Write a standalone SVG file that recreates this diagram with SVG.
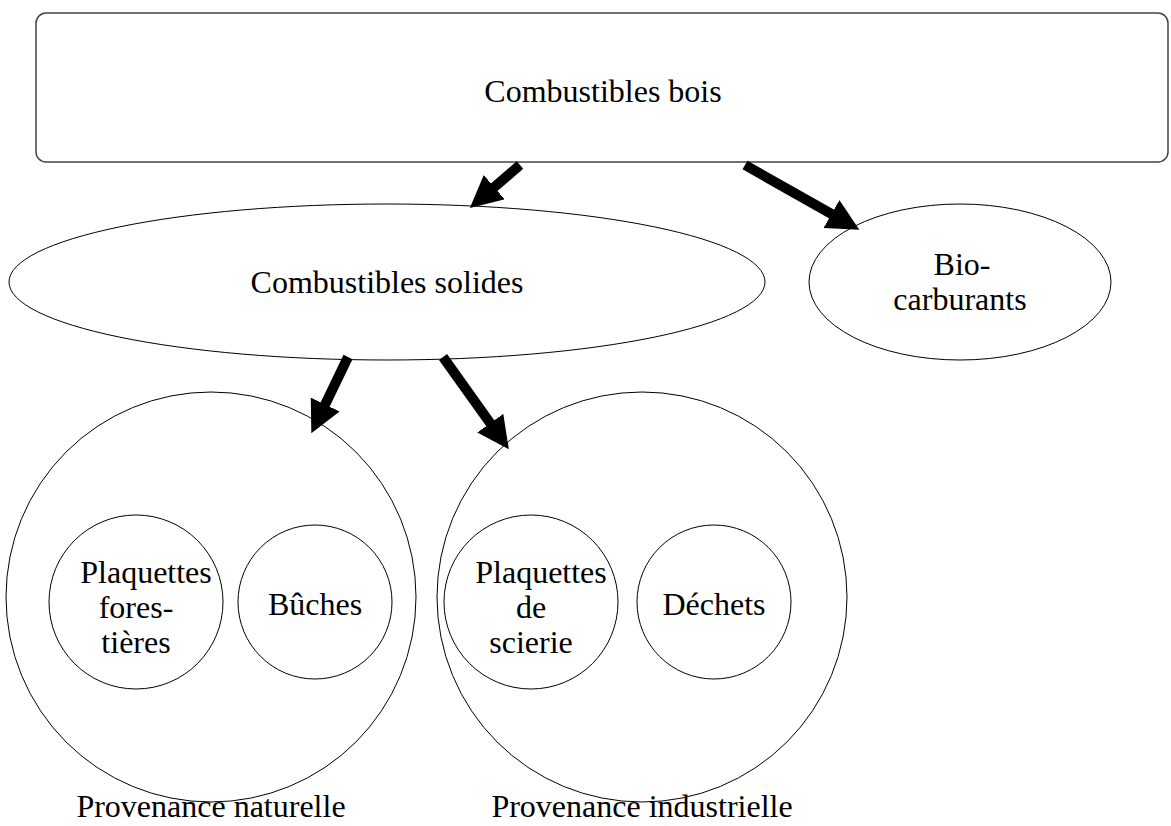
<svg xmlns="http://www.w3.org/2000/svg" width="1171" height="826" viewBox="0 0 1171 826">
<style>
text{font-family:"Liberation Serif","Times New Roman",serif;font-size:32px;fill:#000;text-anchor:middle}
.n{fill:#fff;stroke:#000;stroke-width:1}
.box{fill:#fff;stroke:#444;stroke-width:1.5}
.arr{stroke:#000;stroke-width:10;fill:none;marker-end:url(#ah)}
</style>
<defs>
<marker id="ah" markerUnits="userSpaceOnUse" markerWidth="32" markerHeight="32" refX="8" refY="15" orient="auto" viewBox="0 0 30 30">
<path d="M0,0 L30,15 L0,30 z" fill="#000"/>
</marker>
</defs>
<rect width="1171" height="826" fill="#fff"/>
<g id="bois"><rect class="box" x="36" y="13" width="1132" height="149" rx="10"/><text x="603" y="102">Combustibles bois</text></g>
<g id="solides"><ellipse class="n" cx="387" cy="282" rx="378" ry="78"/><text x="387" y="293">Combustibles solides</text></g>
<g id="bio"><ellipse class="n" cx="960" cy="282" rx="151" ry="78"/><text x="962" y="275">Bio-</text><text x="960" y="310">carburants</text></g>
<g id="naturelle"><circle class="n" cx="211" cy="597" r="205"/><text x="211" y="817">Provenance naturelle</text></g>
<g id="industrielle"><circle class="n" cx="642" cy="597" r="205"/><text x="642" y="817">Provenance industrielle</text></g>
<g id="plaqfor"><circle class="n" cx="136" cy="602" r="87"/><text x="146" y="583">Plaquettes</text><text x="136" y="618">fores-</text><text x="136" y="653">tières</text></g>
<g id="buches"><circle class="n" cx="315" cy="602" r="77"/><text x="315" y="615">Bûches</text></g>
<g id="plaqsci"><circle class="n" cx="531" cy="602" r="87"/><text x="541" y="583">Plaquettes</text><text x="531" y="618">de</text><text x="531" y="653">scierie</text></g>
<g id="dechets"><circle class="n" cx="714" cy="602" r="77"/><text x="714" y="615">Déchets</text></g>
<g id="connectors">
<line class="arr" x1="520" y1="165" x2="487.7" y2="192.7"/>
<line class="arr" x1="745" y1="165" x2="838.9" y2="218.2"/>
<line class="arr" x1="348" y1="357" x2="321.5" y2="412.2"/>
<line class="arr" x1="443" y1="357" x2="495.2" y2="430.1"/>
</g>
</svg>
